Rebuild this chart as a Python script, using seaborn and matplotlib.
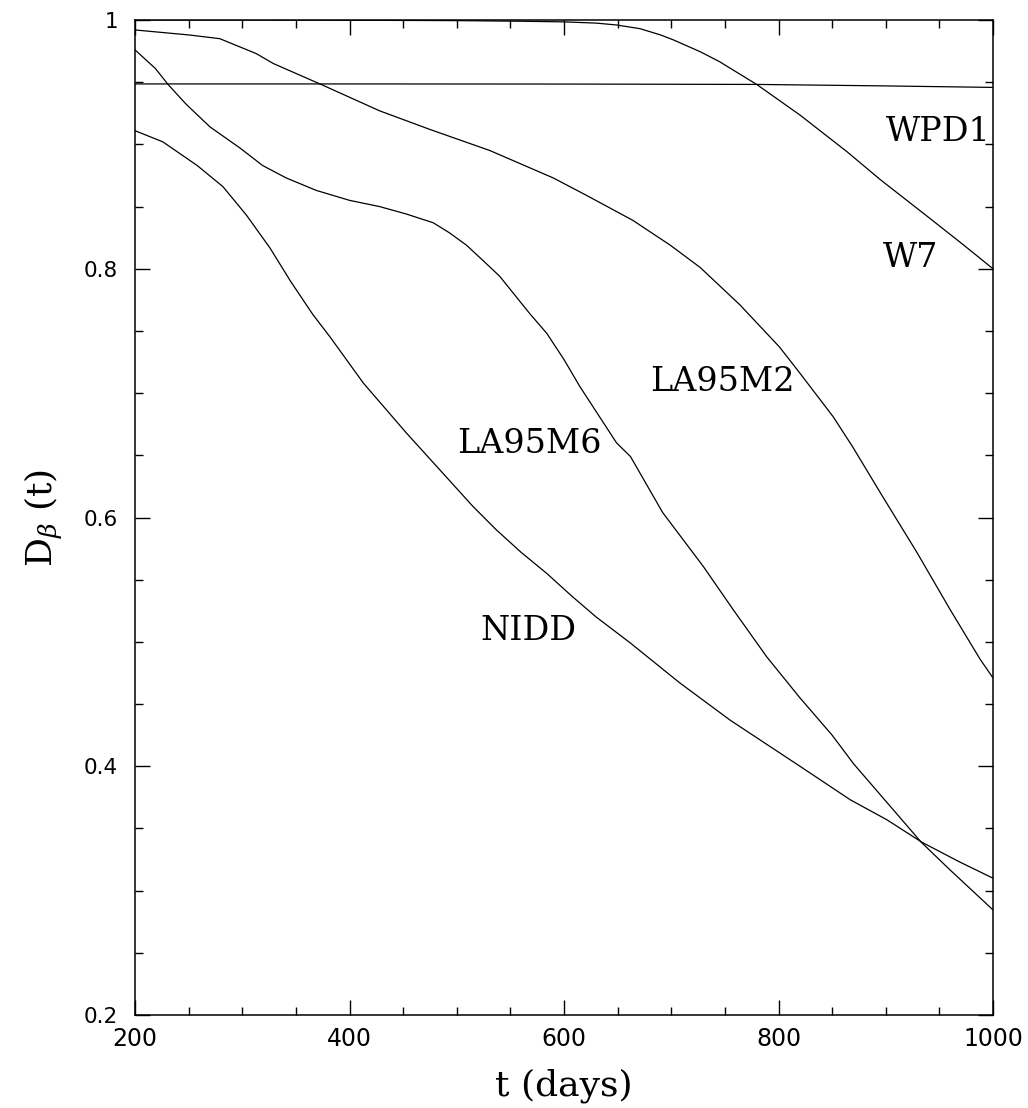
import matplotlib
matplotlib.use("Agg")
import matplotlib.pyplot as plt
import seaborn as sns
import pandas as pd
from matplotlib.ticker import MultipleLocator

# ---- data ----
w7_days = [200, 300, 400, 500, 560, 600, 630, 649, 671, 690, 702, 727, 745, 780, 820, 864, 895, 941, 972, 1000]
w7_vals = [1.0, 1.0, 0.9998, 0.9995, 0.999, 0.9985, 0.9975, 0.996, 0.993, 0.988, 0.984, 0.9745, 0.9665, 0.948, 0.9236, 0.894, 0.8716, 0.8406, 0.8195, 0.800]

wpd1_days = [200, 400, 600, 780, 900, 1000]
wpd1_vals = [0.9486, 0.9486, 0.9485, 0.9482, 0.9470, 0.9458]

la95m2_days = [200, 250, 279, 313, 329, 374, 428, 475, 531, 590, 621, 664, 699, 727, 764, 801, 820, 851, 869, 897, 929, 960, 988, 1000]
la95m2_vals = [0.992, 0.988, 0.985, 0.973, 0.965, 0.948, 0.927, 0.912, 0.895, 0.873, 0.859, 0.839, 0.819, 0.801, 0.771, 0.737, 0.716, 0.681, 0.657, 0.617, 0.572, 0.526, 0.486, 0.471]

la95m6_days = [200, 219, 231, 248, 270, 298, 319, 341, 369, 400, 428, 453, 478, 493, 509, 524, 540, 568, 584, 600, 615, 649, 662, 692, 730, 758, 789, 820, 850, 870, 899, 933, 960, 1000]
la95m6_vals = [0.976, 0.961, 0.948, 0.932, 0.914, 0.897, 0.883, 0.873, 0.863, 0.855, 0.850, 0.844, 0.837, 0.829, 0.819, 0.807, 0.794, 0.764, 0.748, 0.727, 0.705, 0.660, 0.649, 0.604, 0.5605, 0.5256, 0.488, 0.455, 0.425, 0.402, 0.373, 0.339, 0.3166, 0.2845]

nidd_days = [200, 226, 258, 282, 304, 326, 345, 366, 382, 413, 453, 494, 515, 537, 560, 584, 607, 630, 662, 708, 755, 820, 867, 901, 933.5, 969, 1000]
nidd_vals = [0.911, 0.902, 0.883, 0.866, 0.843, 0.8165, 0.790, 0.763, 0.745, 0.708, 0.668, 0.629, 0.609, 0.590, 0.572, 0.555, 0.537, 0.520, 0.499, 0.467, 0.437, 0.400, 0.373, 0.357, 0.339, 0.323, 0.310]

model_names = ["WPD1", "W7", "LA95M2", "LA95M6", "NIDD"]
label_x = [949, 923, 748, 568, 567]
label_y = [0.910, 0.809, 0.709, 0.659, 0.509]

series = {
    "WPD1": (wpd1_days, wpd1_vals),
    "W7": (w7_days, w7_vals),
    "LA95M2": (la95m2_days, la95m2_vals),
    "LA95M6": (la95m6_days, la95m6_vals),
    "NIDD": (nidd_days, nidd_vals),
}
frames = [pd.DataFrame({"t": d, "D": v, "model": name}) for name, (d, v) in series.items()]
df = pd.concat(frames, ignore_index=True)

sns.set_style("ticks")
plt.rcParams["font.family"] = ["DejaVu Sans"]
plt.rcParams["mathtext.fontset"] = "dejavuserif"
for key in ["text.color", "axes.labelcolor", "xtick.color", "ytick.color", "axes.edgecolor"]:
    plt.rcParams[key] = "black"

fig = plt.figure(figsize=(10.28, 11.08), dpi=100)
ax = fig.add_axes([135 / 1028, 1 - 1015 / 1108, (993 - 135) / 1028, (1015 - 20) / 1108])

sns.lineplot(data=df, x="t", y="D", hue="model", units="model", estimator=None,
             palette={n: "black" for n in model_names}, legend=False,
             linewidth=0.9, sort=False, ax=ax)

ax.set_xlim(200, 1000)
ax.set_ylim(0.2, 1.0)
ax.xaxis.set_major_locator(MultipleLocator(200))
ax.xaxis.set_minor_locator(MultipleLocator(50))
ax.yaxis.set_major_locator(MultipleLocator(0.2))
ax.yaxis.set_minor_locator(MultipleLocator(0.05))
ax.set_yticks([0.2, 0.4, 0.6, 0.8, 1.0])
ax.set_yticklabels(["0.2", "0.4", "0.6", "0.8", "1"])

ax.tick_params(which="both", direction="in", top=True, right=True, width=1.0,
               color="black", labelcolor="black")
ax.tick_params(which="major", length=11)
ax.tick_params(which="minor", length=6)
ax.tick_params(axis="x", which="major", labelsize=17, pad=9)
ax.tick_params(axis="y", which="major", labelsize=15.5, pad=12)
for sp in ax.spines.values():
    sp.set_linewidth(1.1)
    sp.set_color("black")

ax.set_xlabel("t (days)", fontsize=26, family="DejaVu Serif", labelpad=12, color="black")
ax.set_ylabel(r"D$_{\beta}$ (t)", fontsize=26, family="DejaVu Serif", labelpad=14, color="black")

for name, lx, ly in zip(model_names, label_x, label_y):
    ax.text(lx, ly, name, fontsize=24, family="DejaVu Serif", ha="center", va="center", color="black")

fig.savefig("out.png", dpi=100)
